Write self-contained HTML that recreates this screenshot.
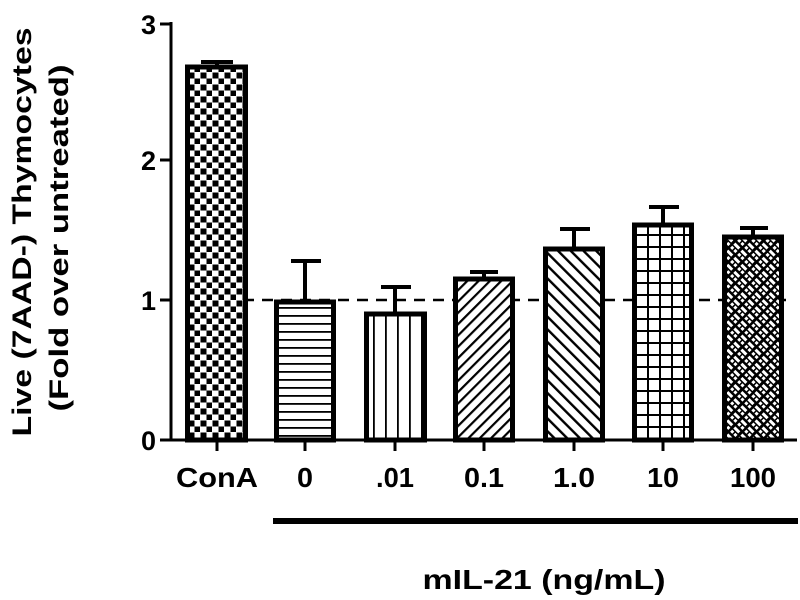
<!DOCTYPE html>
<html><head><meta charset="utf-8"><style>html,body{margin:0;padding:0;background:#fff}svg{display:block}</style></head>
<body>
<svg width="800" height="600" viewBox="0 0 800 600" xmlns="http://www.w3.org/2000/svg" font-family="Liberation Sans, Arial, sans-serif" font-weight="bold">
<defs>
<pattern id="chk" width="12" height="12" patternUnits="userSpaceOnUse" x="188" y="0">
<rect width="12" height="12" fill="#fff"/><rect x="0.5" y="0.5" width="6" height="6" fill="#000"/><rect x="6.5" y="6.5" width="5.5" height="5.5" fill="#000"/></pattern>
<pattern id="hor" width="10" height="8" patternUnits="userSpaceOnUse"><rect width="10" height="8" fill="#fff"/><rect y="3" width="10" height="1.8" fill="#000"/></pattern>
<pattern id="ver" width="12" height="10" patternUnits="userSpaceOnUse" x="368"><rect width="12" height="10" fill="#fff"/><rect x="5" width="1.8" height="10" fill="#000"/></pattern>
<pattern id="d1" width="8" height="8" patternUnits="userSpaceOnUse" patternTransform="rotate(45)"><rect width="8" height="8" fill="#fff"/><rect width="2.2" height="8" fill="#000"/></pattern>
<pattern id="d2" width="9" height="9" patternUnits="userSpaceOnUse" patternTransform="rotate(-45)"><rect width="9" height="9" fill="#fff"/><rect width="2.4" height="9" fill="#000"/></pattern>
<pattern id="grid" width="12" height="12" patternUnits="userSpaceOnUse" x="546" y="229"><rect width="12" height="12" fill="#fff"/><rect x="5" width="2" height="12" fill="#000"/><rect y="5" width="12" height="2" fill="#000"/></pattern>
<pattern id="weave" width="10" height="10" patternUnits="userSpaceOnUse" patternTransform="rotate(45)"><rect width="10" height="10" fill="#000"/><rect x="1.5" y="1.5" width="7" height="3" fill="#fff"/><rect x="1.5" y="6" width="3" height="3" fill="#fff"/><rect x="6" y="6" width="3" height="3" fill="#fff"/></pattern>
</defs>

<text transform="translate(31,232) rotate(-90)" font-size="27" text-anchor="middle" textLength="409" lengthAdjust="spacingAndGlyphs">Live (7AAD-) Thymocytes</text>
<text transform="translate(68,238) rotate(-90)" font-size="27" text-anchor="middle" textLength="347" lengthAdjust="spacingAndGlyphs">(Fold over untreated)</text>

<g stroke="#000" stroke-width="3">
<line x1="171" y1="22" x2="171" y2="441"/>
<line x1="160" y1="24" x2="171" y2="24"/>
<line x1="160" y1="160" x2="171" y2="160"/>
<line x1="160" y1="300" x2="171" y2="300"/>
<line x1="160" y1="440" x2="797" y2="440"/>
</g>
<g font-size="27" text-anchor="end">
<text x="156" y="34">3</text><text x="156" y="170">2</text><text x="156" y="310">1</text><text x="156" y="450">0</text>
</g>

<line x1="186" y1="300" x2="792" y2="300" stroke="#000" stroke-width="2.5" stroke-dasharray="11,8"/>

<g stroke="#000" stroke-width="4">
<line x1="217" y1="62" x2="217" y2="66"/><line x1="201" y1="62" x2="233" y2="62"/>
<line x1="305" y1="261" x2="305" y2="300"/><line x1="291" y1="261" x2="321" y2="261"/>
<line x1="395" y1="287" x2="395" y2="312"/><line x1="381" y1="287" x2="411" y2="287"/>
<line x1="484" y1="272" x2="484" y2="277"/><line x1="470" y1="272" x2="498" y2="272"/>
<line x1="574" y1="229" x2="574" y2="247"/><line x1="560" y1="229" x2="590" y2="229"/>
<line x1="663" y1="207" x2="663" y2="223"/><line x1="649" y1="207" x2="679" y2="207"/>
<line x1="753" y1="228" x2="753" y2="235"/><line x1="740" y1="228" x2="768" y2="228"/>
</g>

<g stroke="#000" stroke-width="5">
<rect x="187.5" y="67" width="58" height="373" fill="url(#chk)"/>
<rect x="276.5" y="302" width="57" height="138" fill="url(#hor)"/>
<rect x="366.5" y="314" width="58" height="126" fill="url(#ver)"/>
<rect x="455.5" y="279" width="57" height="161" fill="url(#d1)"/>
<rect x="545.5" y="249" width="57" height="191" fill="url(#d2)"/>
<rect x="634.5" y="225" width="57" height="215" fill="url(#grid)"/>
<rect x="724.5" y="237" width="57" height="203" fill="url(#weave)"/>
</g>

<g stroke="#000" stroke-width="3">
<line x1="217" y1="440" x2="217" y2="451"/><line x1="305" y1="440" x2="305" y2="451"/>
<line x1="395" y1="440" x2="395" y2="451"/><line x1="484" y1="440" x2="484" y2="451"/>
<line x1="574" y1="440" x2="574" y2="451"/><line x1="663" y1="440" x2="663" y2="451"/>
<line x1="753" y1="440" x2="753" y2="451"/>
</g>
<g font-size="28" text-anchor="middle">
<text x="217" y="487" textLength="82" lengthAdjust="spacingAndGlyphs">ConA</text>
<text x="305" y="487" textLength="16" lengthAdjust="spacingAndGlyphs">0</text>
<text x="395" y="487" textLength="38" lengthAdjust="spacingAndGlyphs">.01</text>
<text x="484" y="487" textLength="40" lengthAdjust="spacingAndGlyphs">0.1</text>
<text x="574" y="487" textLength="42" lengthAdjust="spacingAndGlyphs">1.0</text>
<text x="663" y="487" textLength="32" lengthAdjust="spacingAndGlyphs">10</text>
<text x="753" y="487" textLength="46" lengthAdjust="spacingAndGlyphs">100</text>
</g>
<rect x="273" y="518" width="525" height="6" fill="#000"/>
<text x="544" y="589" font-size="28" text-anchor="middle" textLength="243" lengthAdjust="spacingAndGlyphs">mIL-21 (ng/mL)</text>
</svg>
</body></html>
